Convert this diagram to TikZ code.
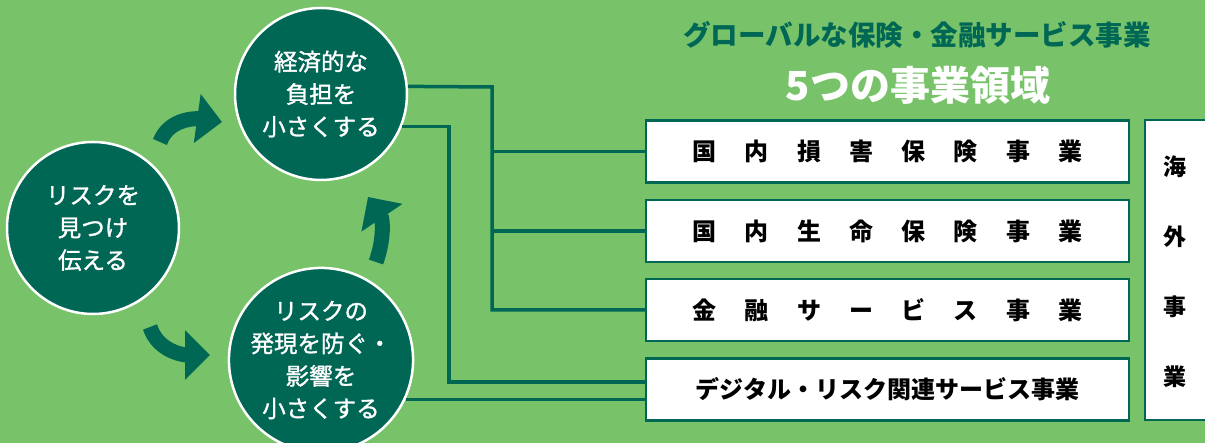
\documentclass[tikz,border=0pt]{standalone}
\usepackage{fontspec}
\setmainfont{Noto Sans CJK JP}
\newfontfamily\bubblefont{Noto Sans CJK JP}[FakeBold=1.2]
\usetikzlibrary{arrows.meta}

\definecolor{bggreen}{RGB}{120,195,106}
\definecolor{dkgreen}{RGB}{0,103,85}

\newcommand{\spreadtext}[1]{\makebox[390pt][s]{#1}}

\begin{document}
\begin{tikzpicture}[x=1pt, y=1pt,
  bubble/.style={circle, fill=dkgreen, draw=white, line width=2.5pt, minimum size=172pt,
    inner sep=0pt, text=white, align=center, font=\bubblefont\fontsize{23.5}{32.5}\selectfont},
  svcbox/.style={rectangle, fill=white, draw=dkgreen, line width=2.5pt, minimum width=483pt,
    minimum height=62pt, inner sep=0pt, font=\bfseries\fontsize{24}{28}\selectfont},
  link/.style={draw=dkgreen, line width=3.5pt},
  bigarrow/.style={draw=dkgreen, line width=15pt, -{Triangle[length=25pt, width=48pt]}}]

\useasboundingbox (0,0) rectangle (1205,443);
\fill[bggreen] (0,0) rectangle (1205,443);

% the three circles
\node (find) at (93,215) [bubble] {リスクを\\見つけ\\伝える};
\node (burden) at (321,349) [bubble] {経済的な\\負担を\\小さくする};
\node (prevent) at (321,83) [bubble] {リスクの\\発現を防ぐ・\\影響を\\小さくする};

\draw[bigarrow] (160,301) to[out=70, in=172] (222,321);
\draw[bigarrow] (150,116) to[out=-72, in=180] (210,88);
\draw[bigarrow] (376,181) to[out=70, in=-56] (368,246);

% titles
\node (subtitle) at (917,408) [text=dkgreen, font=\bfseries\fontsize{27.5}{30}\selectfont] {グローバルな保険・金融サービス事業};
\node (title) at (918,358) [text=white, font=\bfseries\fontsize{40}{44}\selectfont] {5つの事業領域};

% business boxes
\node (svc1) at (887.5,291.5) [svcbox] {\spreadtext{国 内 損 害 保 険 事 業}};
\node (svc2) at (887.5,212) [svcbox] {\spreadtext{国 内 生 命 保 険 事 業}};
\node (svc3) at (887.5,133) [svcbox] {\spreadtext{金 融 サ ー ビ ス 事 業}};
\node (svc4) at (887.5,53.5) [svcbox] {デジタル・リスク関連サービス事業};

\draw[fill=white, draw=dkgreen, line width=2.5pt] (1145,23) rectangle (1240,323);
\node (abroad) at (1175,171) [align=center, font=\bfseries\fontsize{23}{70}\selectfont] {海\\外\\事\\業};

% connectors
\coordinate (fork) at (492,356);
\draw[link] (burden.5) -- (fork) |- (svc3.west);
\draw[link] (fork |- svc1.west) -- (svc1.west);
\draw[link] (fork |- svc2.west) -- (svc2.west);
\draw[link] (burden.-22) -| ([xshift=-196pt, yshift=7.5pt]svc4.west) -- ([yshift=7.5pt]svc4.west);
\draw[link] (prevent.-25) -- (prevent.-25 -| svc4.west);
\end{tikzpicture}
\end{document}
